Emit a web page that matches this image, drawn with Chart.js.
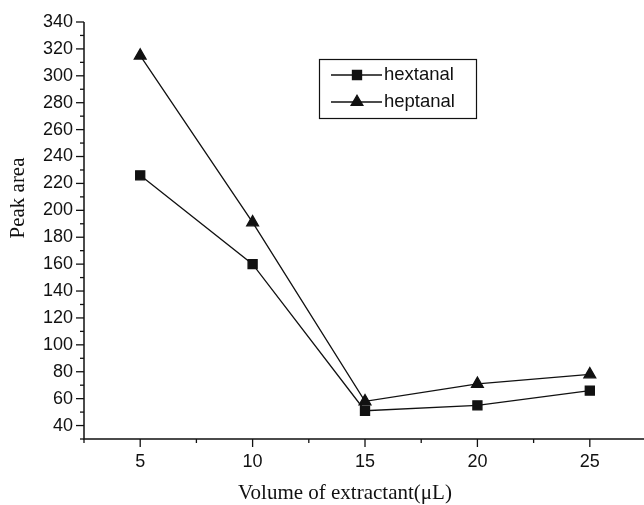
<!DOCTYPE html>
<html>
<head>
<meta charset="utf-8">
<script src="https://cdn.jsdelivr.net/npm/chart.js@4.4.0/dist/chart.umd.min.js"></script>
<style>
html,body{margin:0;padding:0;background:#fff;}
#wrap{width:644px;height:505px;position:relative;}
</style>
</head>
<body>
<div id="wrap"><canvas id="c" width="644" height="505"></canvas></div>
<script>
const volumes = [5, 10, 15, 20, 25];
const hextanal = [226, 160, 51, 55, 66];
const heptanal = [315, 191, 58, 71, 78];
const seriesNames = ['hextanal', 'heptanal'];
const xTitle = 'Volume of extractant(\u03BCL)';
const yTitle = 'Peak area';

const INK = '#111';
const tickFont = {family: 'Liberation Sans, Arial, sans-serif', size: 18};
const titleFontCss = '21px "Liberation Serif", "Times New Roman", serif';

const axesPlugin = {
  id: 'axesPlugin',
  afterDraw(chart) {
    const ctx = chart.ctx;
    const xs = chart.scales.x, ys = chart.scales.y;
    const a = chart.chartArea;
    ctx.save();
    ctx.strokeStyle = INK;
    ctx.lineWidth = 1.5;
    ctx.beginPath();
    ctx.moveTo(a.left, a.top);
    ctx.lineTo(a.left, a.bottom);
    ctx.lineTo(chart.width, a.bottom);
    ctx.stroke();
    ctx.lineWidth = 1.3;
    xs.ticks.forEach(t => {
      const px = xs.getPixelForValue(t.value);
      const major = Math.abs(t.value % 5) < 1e-6;
      ctx.beginPath();
      ctx.moveTo(px, a.bottom);
      ctx.lineTo(px, a.bottom + (major ? 8 : 4));
      ctx.stroke();
    });
    ys.ticks.forEach(t => {
      const py = ys.getPixelForValue(t.value);
      const major = Math.abs(t.value % 20) < 1e-6;
      ctx.beginPath();
      ctx.moveTo(a.left, py);
      ctx.lineTo(a.left - (major ? 8 : 4), py);
      ctx.stroke();
    });
    ctx.fillStyle = INK;
    ctx.font = titleFontCss;
    ctx.textAlign = 'center';
    ctx.textBaseline = 'middle';
    ctx.fillText(xTitle, 345, 493);
    ctx.save();
    ctx.translate(18, 198);
    ctx.rotate(-Math.PI / 2);
    ctx.fillText(yTitle, 0, 0);
    ctx.restore();
    const bx = 319, by = 59, bw = 157, bh = 59;
    ctx.lineWidth = 1.2;
    ctx.strokeStyle = INK;
    ctx.strokeRect(bx + 0.5, by + 0.5, bw, bh);
    const rows = [75, 102];
    chart.data.datasets.forEach((ds, i) => {
      const y = rows[i];
      ctx.strokeStyle = ds.borderColor;
      ctx.lineWidth = ds.borderWidth;
      ctx.beginPath();
      ctx.moveTo(331, y);
      ctx.lineTo(382, y);
      ctx.stroke();
      ctx.fillStyle = INK;
      Chart.helpers.drawPoint(ctx, {pointStyle: ds.pointStyle, radius: ds.pointRadius, borderWidth: 1}, 357, y);
      ctx.fillStyle = INK;
      ctx.font = '18.5px "Liberation Sans", Arial, sans-serif';
      ctx.textAlign = 'left';
      ctx.textBaseline = 'middle';
      ctx.fillText(ds.label, 384, y);
    });
    ctx.restore();
  }
};

const X_MIN = 2.5, X_MAX = 27.05;

new Chart(document.getElementById('c'), {
  type: 'line',
  data: {
    datasets: [
      {
        label: seriesNames[0],
        data: volumes.map((v, i) => ({x: v, y: hextanal[i]})),
        borderColor: INK, backgroundColor: INK, borderWidth: 1.3,
        pointStyle: 'rect', pointRadius: 6.4, pointBackgroundColor: INK, pointBorderColor: INK,
        tension: 0
      },
      {
        label: seriesNames[1],
        data: volumes.map((v, i) => ({x: v, y: heptanal[i]})),
        borderColor: INK, backgroundColor: INK, borderWidth: 1.3,
        pointStyle: 'triangle', pointRadius: 6.8, pointBackgroundColor: INK, pointBorderColor: INK,
        tension: 0
      }
    ]
  },
  options: {
    responsive: false,
    animation: false,
    layout: {padding: {top: 22, right: 0, left: 0, bottom: 0}},
    plugins: {legend: {display: false}, tooltip: {enabled: false}},
    scales: {
      x: {
        type: 'linear', min: X_MIN, max: X_MAX,
        afterBuildTicks(s) {
          const t = [];
          for (let v = X_MIN; v <= X_MAX + 1e-6; v += 2.5) t.push({value: v});
          s.ticks = t;
        },
        afterFit(s) { s.height = 66; s.paddingLeft = 0; s.paddingRight = 0; },
        grid: {display: false, drawTicks: false},
        border: {display: false},
        ticks: {
          color: INK, font: tickFont, padding: 12, autoSkip: false, maxRotation: 0,
          callback: v => (Math.abs(v % 5) < 1e-6 ? String(v) : '')
        }
      },
      y: {
        type: 'linear', min: 30, max: 340,
        afterBuildTicks(s) {
          const t = [];
          for (let v = 30; v <= 340; v += 10) t.push({value: v});
          s.ticks = t;
        },
        afterFit(s) { s.width = 84; s.paddingTop = 0; s.paddingBottom = 0; },
        grid: {display: false, drawTicks: false},
        border: {display: false},
        ticks: {
          color: INK, font: tickFont, padding: 11, autoSkip: false,
          callback: v => (v % 20 === 0 ? String(v) : '')
        }
      }
    }
  },
  plugins: [axesPlugin]
});
</script>
</body>
</html>
